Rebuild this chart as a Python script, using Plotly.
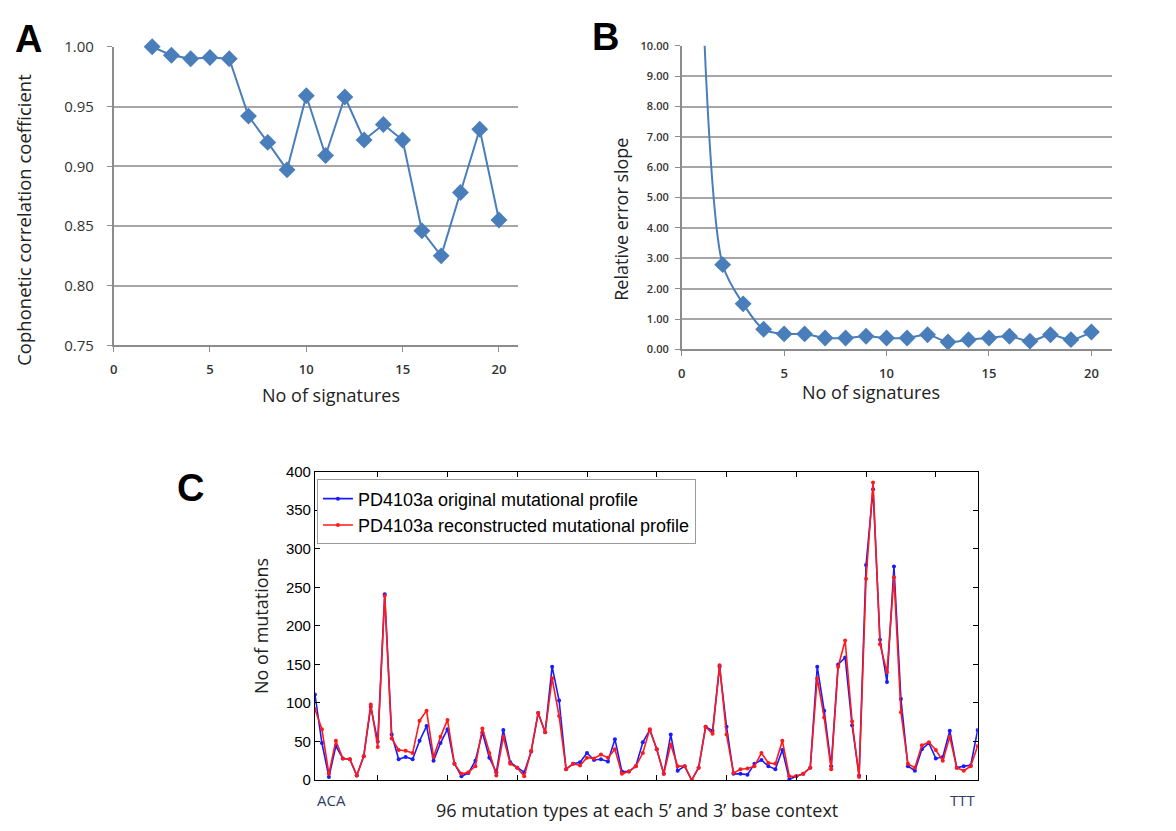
import plotly.graph_objects as go

# ---------------- Data ----------------
# Panel A
sig_a = list(range(2, 21))
coph = [1.000, 0.993, 0.990, 0.991, 0.990, 0.942, 0.920, 0.897, 0.959, 0.909,
        0.958, 0.922, 0.935, 0.922, 0.846, 0.825, 0.878, 0.931, 0.855]

# Panel B (first point lies above the visible range)
sig_b = list(range(1, 21))
rel_err = [12.0, 2.79, 1.50, 0.66, 0.51, 0.51, 0.375, 0.375, 0.43, 0.375, 0.375,
           0.48, 0.24, 0.32, 0.375, 0.43, 0.27, 0.48, 0.32, 0.57]

# Panel C
mut_idx = list(range(1, 97))
original = [111, 48, 4, 44, 28, 27, 6, 31, 95, 50,
            241, 59, 27, 30, 27, 51, 70, 25, 48, 66,
            21, 5, 9, 25, 62, 29, 10, 65, 23, 16,
            10, 37, 87, 62, 147, 103, 14, 21, 23, 35,
            26, 27, 24, 53, 11, 11, 18, 49, 65, 40,
            8, 59, 12, 18, 0, 16, 69, 64, 147, 69,
            8, 8, 7, 21, 26, 18, 14, 39, 1, 5,
            8, 16, 147, 90, 18, 150, 159, 71, 6, 279,
            377, 182, 127, 277, 105, 18, 12, 40, 48, 28,
            30, 64, 16, 18, 19, 65]
reconstructed = [92, 66, 8, 51, 28, 27, 6, 31, 98, 43,
                 239, 54, 39, 38, 35, 77, 90, 30, 56, 78,
                 21, 8, 10, 18, 67, 35, 6, 56, 21, 16,
                 5, 38, 87, 62, 132, 83, 14, 21, 19, 29,
                 28, 33, 29, 40, 8, 11, 18, 35, 66, 40,
                 8, 46, 18, 18, 0, 16, 69, 60, 149, 59,
                 9, 14, 15, 18, 35, 22, 21, 51, 5, 5,
                 8, 16, 132, 81, 14, 147, 181, 76, 4, 261,
                 386, 176, 140, 263, 88, 21, 16, 45, 49, 39,
                 25, 56, 16, 12, 18, 44]
y_ticks_a = [0.75, 0.80, 0.85, 0.90, 0.95, 1.00]
y_ticks_b = list(range(0, 11))
x_ticks_ab = [0, 5, 10, 15, 20]
y_ticks_c = [0, 50, 100, 150, 200, 250, 300, 350, 400]
x_ticks_c = [10, 20, 30, 40, 50, 60, 70, 80, 90]
end_labels = ["ACA", "TTT"]

W, H = 1176, 831
def px(x):
    return x / W
def py(y):
    return 1 - y / H

excel_blue = "#4a7ebb"
grid_col = "#a6a6a6"
xl_font = "Open Sans"

fig = go.Figure()

fig.add_trace(go.Scatter(
    x=sig_a, y=coph, mode="lines+markers", xaxis="x", yaxis="y",
    line=dict(color=excel_blue, width=2),
    marker=dict(symbol="diamond", size=13, color=excel_blue),
    cliponaxis=False, showlegend=False))

fig.add_trace(go.Scatter(
    x=sig_b, y=rel_err, mode="lines+markers", xaxis="x2", yaxis="y2",
    line=dict(color=excel_blue, width=2, shape="spline", smoothing=0.8),
    marker=dict(symbol="diamond", size=13, color=excel_blue),
    cliponaxis=True, showlegend=False))

fig.add_trace(go.Scatter(
    x=mut_idx, y=original, mode="lines+markers", xaxis="x3", yaxis="y3",
    name="PD4103a original mutational profile",
    line=dict(color="#1a1aff", width=1.6),
    marker=dict(symbol="circle", size=4, color="#1a1aff")))
fig.add_trace(go.Scatter(
    x=mut_idx, y=reconstructed, mode="lines+markers", xaxis="x3", yaxis="y3",
    name="PD4103a reconstructed mutational profile",
    line=dict(color="#ff1a1a", width=1.6),
    marker=dict(symbol="circle", size=4, color="#ff1a1a")))

axis_common_xl = dict(
    showline=True, linecolor="#8c8c8c", linewidth=1.5, zeroline=False,
    ticks="outside", ticklen=5, tickcolor="#8c8c8c",
)

fig.update_layout(
    width=W, height=H, margin=dict(l=0, r=0, t=0, b=0),
    paper_bgcolor="white", plot_bgcolor="white",
    font=dict(family=xl_font, color="#222"),
    xaxis=dict(domain=[px(110), px(516)], range=[0, 21], anchor="y",
               tickvals=x_ticks_ab, showgrid=False, ticklabelstandoff=6,
               tickfont=dict(size=13, color="#333", weight=600), **axis_common_xl),
    yaxis=dict(domain=[py(342.7), py(36.7)], range=[0.75, 1.0], anchor="x",
               tickvals=y_ticks_a, tickformat=".2f", ticklabelstandoff=10,
               showgrid=True, gridcolor=grid_col, gridwidth=1.5,
               tickfont=dict(size=15, color="#333"), **axis_common_xl),
    xaxis2=dict(domain=[px(680), px(1111.7)], range=[0, 21], anchor="y2",
                tickvals=x_ticks_ab, showgrid=False, ticklabelstandoff=6,
                tickfont=dict(size=13, color="#333", weight=600), **axis_common_xl),
    yaxis2=dict(domain=[py(346.7), py(35.7)], range=[0, 10], anchor="x2",
                tickvals=y_ticks_b, tickformat=".2f", ticklabelstandoff=4,
                showgrid=True, gridcolor=grid_col, gridwidth=1.5,
                tickfont=dict(size=11, color="#333", weight=600), **axis_common_xl),
    xaxis3=dict(domain=[px(312), px(977)], range=[1, 96], anchor="y3",
                tickvals=x_ticks_c, showticklabels=False,
                ticks="inside", ticklen=5, tickcolor="black",
                showline=True, linecolor="black", linewidth=1, mirror="ticks",
                showgrid=False, zeroline=False),
    yaxis3=dict(domain=[py(788), py(472)], range=[0, 400], anchor="x3",
                tickvals=y_ticks_c, ticks="inside", ticklen=5, tickcolor="black",
                showline=True, linecolor="black", linewidth=1, mirror="ticks",
                showgrid=False, zeroline=False,
                tickfont=dict(family="Liberation Sans", size=15, color="black")),
    legend=dict(x=px(314), y=py(480), xanchor="left", yanchor="top",
                bgcolor="white", bordercolor="#9a9a9a", borderwidth=1,
                font=dict(family="Liberation Sans", size=18, color="black"),
                tracegroupgap=0, itemwidth=30),
)

ann = []
# Panel letters
for letter, x, y in [("A", 25, 29), ("B", 604, 27), ("C", 187, 489)]:
    ann.append(dict(text=f"<b>{letter}</b>", x=px(x), y=py(y), xref="paper", yref="paper",
                    showarrow=False, xanchor="center", yanchor="middle",
                    font=dict(family="Liberation Sans", size=38, color="black")))
# Axis titles
ann.append(dict(text="Cophonetic correlation coefficient", x=px(20), y=py(214),
                xref="paper", yref="paper", showarrow=False, textangle=-90,
                xanchor="center", yanchor="middle",
                font=dict(family=xl_font, size=18.5, color="#222")))
ann.append(dict(text="No of signatures", x=px(328), y=py(393),
                xref="paper", yref="paper", showarrow=False,
                xanchor="center", yanchor="middle",
                font=dict(family=xl_font, size=18, color="#222")))
ann.append(dict(text="Relative error slope", x=px(619), y=py(213),
                xref="paper", yref="paper", showarrow=False, textangle=-90,
                xanchor="center", yanchor="middle",
                font=dict(family=xl_font, size=18, color="#222")))
ann.append(dict(text="No of signatures", x=px(870), y=py(390),
                xref="paper", yref="paper", showarrow=False,
                xanchor="center", yanchor="middle",
                font=dict(family=xl_font, size=18, color="#222")))
ann.append(dict(text="No of mutations", x=px(258), y=py(630),
                xref="paper", yref="paper", showarrow=False, textangle=-90,
                xanchor="center", yanchor="middle",
                font=dict(family=xl_font, size=18, color="#222")))
ann.append(dict(text="96 mutation types at each 5\u2019 and 3\u2019 base context",
                x=px(635), y=py(819), xref="paper", yref="paper", showarrow=False,
                xanchor="center", yanchor="middle",
                font=dict(family=xl_font, size=18, color="#222")))
# End labels for panel C
ann.append(dict(text=end_labels[0], x=mut_idx[0], y=0, xref="x3", yref="y3",
                showarrow=False, xanchor="left", yanchor="top", yshift=-8,
                font=dict(family=xl_font, size=15, color="#2e3d66")))
ann.append(dict(text=end_labels[1], x=mut_idx[-1], y=0, xref="x3", yref="y3",
                showarrow=False, xanchor="right", yanchor="top", yshift=-8,
                font=dict(family=xl_font, size=15, color="#2e3d66")))
fig.update_layout(annotations=ann)

fig.write_html("out.html",
               post_script="document.body.style.margin='0';",
               config={"displayModeBar": False})
